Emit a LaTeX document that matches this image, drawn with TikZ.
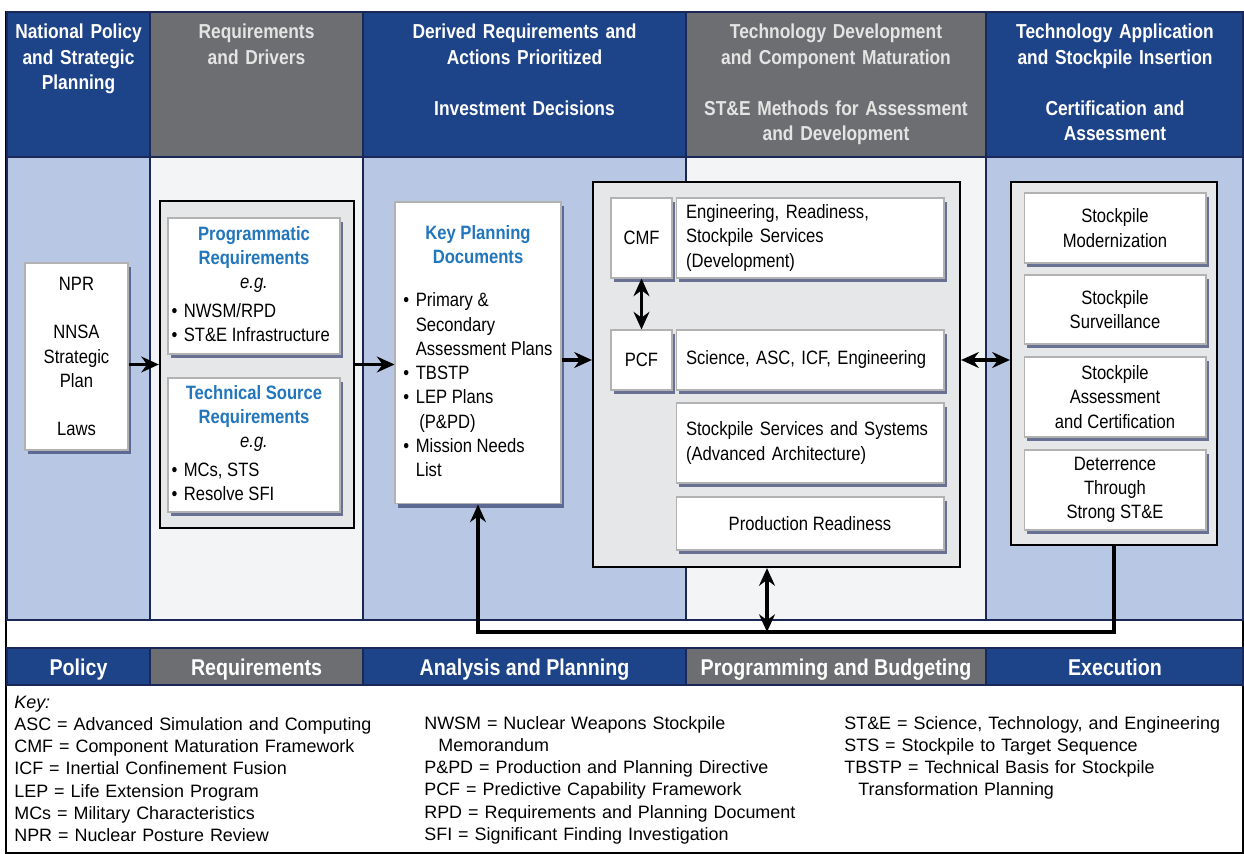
\documentclass[tikz,border=0pt]{standalone}
\usepackage{fontspec}
\setmainfont{Liberation Sans}
\newfontfamily\narrowfont[FakeStretch=0.86]{Liberation Sans}
\usetikzlibrary{arrows.meta,shadows}

\definecolor{hdrblue}{HTML}{1D4388}
\definecolor{hdrgray}{HTML}{6D6E71}
\definecolor{hdrtext}{HTML}{E4E4E4}
\definecolor{bodyblue}{HTML}{B8C7E3}
\definecolor{bodywhite}{HTML}{F3F4F6}
\definecolor{contgray}{HTML}{E6E7E9}
\definecolor{titleblue}{HTML}{2176BC}
\definecolor{rulenavy}{HTML}{1B2857}
\definecolor{shadownavy}{HTML}{3E4A78}

\newcommand{\bul}{\makebox[7pt][l]{\textbullet}}
\newcommand{\titl}[1]{{\color{titleblue}\bfseries #1}}
\newcommand{\ctr}[1]{\multicolumn{1}{@{}c@{}}{#1}}

\begin{document}
\begin{tikzpicture}[x=0.02cm, y=-0.02cm,
	cell/.style={draw=rulenavy, line width=1.2pt},
	hdr/.style={text=white, font=\narrowfont\bfseries\fontsize{11.5}{14.5}\selectfont, align=center, text width=5.8cm, inner sep=0pt, anchor=base},
	band/.style={text=white, font=\narrowfont\bfseries\fontsize{13}{15}\selectfont, inner sep=0pt, anchor=base},
	box/.style={draw=black!30, fill=white, line width=0.6pt, inner sep=0pt,
		drop shadow={shadow xshift=1.8pt, shadow yshift=-2.2pt, fill=shadownavy, opacity=0.75},
		font=\narrowfont\fontsize{11}{13.8}\selectfont},
	cont/.style={draw=black, fill=contgray, line width=1.3pt, inner sep=0pt},
	arr/.style={line width=1.9pt, -{Stealth[length=10pt, width=9pt]}},
	darr/.style={line width=1.9pt, {Stealth[length=10pt, width=9pt]}-{Stealth[length=10pt, width=9pt]}},
	keytext/.style={font=\fontsize{10.2}{12.7}\selectfont, align=left, text width=7.8cm, inner sep=0pt, anchor=base west}]

	\useasboundingbox (0,0) rectangle (1244,854);
	\draw[line width=0.8pt] (6,12) rectangle (1243,853);

	\draw[cell, fill=hdrblue] (7,12) rectangle (150,157);
	\draw[cell, fill=hdrgray] (150,12) rectangle (363,157);
	\draw[cell, fill=hdrblue] (363,12) rectangle (686,157);
	\draw[cell, fill=hdrgray] (686,12) rectangle (986,157);
	\draw[cell, fill=hdrblue] (986,12) rectangle (1243,157);

	\draw[cell, fill=bodyblue] (7,157) rectangle (150,620);
	\draw[cell, fill=bodywhite] (150,157) rectangle (363,620);
	\draw[cell, fill=bodyblue] (363,157) rectangle (686,620);
	\draw[cell, fill=bodywhite] (686,157) rectangle (986,620);
	\draw[cell, fill=bodyblue] (986,157) rectangle (1243,620);

	\draw[cell, fill=hdrblue] (7,648) rectangle (150,685);
	\draw[cell, fill=hdrgray] (150,648) rectangle (363,685);
	\draw[cell, fill=hdrblue] (363,648) rectangle (686,685);
	\draw[cell, fill=hdrgray] (686,648) rectangle (986,685);
	\draw[cell, fill=hdrblue] (986,648) rectangle (1243,685);

	\node[hdr] (hdpolicy) at (78.5,39) {National Policy\\and Strategic\\Planning};
	\node[hdr, text=hdrtext] (hdreq) at (256.5,39) {Requirements\\and Drivers};
	\node[hdr] (hdderived) at (524.5,39) {Derived Requirements and\\Actions Prioritized\\[14.5pt]Investment Decisions};
	\node[hdr, text=hdrtext] (hdtech) at (836,39) {Technology Development\\and Component Maturation\\[14.5pt]ST\&E Methods for Assessment\\and Development};
	\node[hdr] (hdapp) at (1115,39) {Technology Application\\and Stockpile Insertion\\[14.5pt]Certification and\\Assessment};

	\node[band] (bdpolicy) at (78.5,675) {Policy};
	\node[band] (bdreq) at (256.5,675) {Requirements};
	\node[band] (bdanalysis) at (524.5,675) {Analysis and Planning};
	\node[band] (bdprog) at (836,675) {Programming and Budgeting};
	\node[band] (bdexec) at (1115,675) {Execution};

	\node[box, minimum width=2.06cm, minimum height=3.74cm, align=center] (npr) at (76.5,356.5)
		{NPR\\[13.8pt]NNSA\\Strategic\\Plan\\[13.8pt]Laws};

	\node[cont, minimum width=3.88cm, minimum height=6.54cm] (reqbox) at (257,364.5) {};
	\node[box, minimum width=3.44cm, minimum height=2.72cm] (progreq) at (254,286)
		{\begin{tabular}{@{}l@{}}
		\ctr{\makebox[3.3cm]{\titl{Programmatic}}}\\
		\ctr{\titl{Requirements}}\\
		\ctr{\textit{e.g.}}\\[2.5pt]
		\bul NWSM/RPD\\
		\bul ST\&E Infrastructure
		\end{tabular}};
	\node[box, minimum width=3.44cm, minimum height=2.68cm] (techreq) at (254,445)
		{\begin{tabular}{@{}l@{}}
		\ctr{\makebox[3.3cm]{\titl{Technical Source}}}\\
		\ctr{\titl{Requirements}}\\
		\ctr{\textit{e.g.}}\\[2.5pt]
		\bul MCs, STS\\
		\bul Resolve SFI
		\end{tabular}};

	\node[box, minimum width=3.32cm, minimum height=6.04cm] (kpd) at (478,353)
		{\begin{tabular}{@{}l@{}}
		\ctr{\titl{Key Planning}}\\
		\ctr{\titl{Documents}}\\[11pt]
		\bul Primary \&\\
		\hspace*{7pt}Secondary\\
		\hspace*{7pt}Assessment Plans\\
		\bul TBSTP\\
		\bul LEP Plans\\
		\hspace*{9pt}(P\&PD)\\
		\bul Mission Needs\\
		\hspace*{7pt}List
		\end{tabular}};

	\node[cont, minimum width=7.34cm, minimum height=7.7cm] (techbox) at (776.5,374.5) {};
	\node[box, minimum width=1.22cm, minimum height=1.6cm] (cmf) at (641.5,238) {CMF};
	\node[box, minimum width=5.36cm, minimum height=1.6cm, text width=4.96cm, inner xsep=0.2cm, align=left] (eng) at (810,238)
		{Engineering, Readiness,\\Stockpile Services\\(Development)};
	\node[box, minimum width=1.22cm, minimum height=1.2cm] (pcf) at (641.5,360) {PCF};
	\node[box, minimum width=5.36cm, minimum height=1.2cm, text width=4.96cm, inner xsep=0.2cm, align=left] (sci) at (810,360)
		{Science, ASC, ICF, Engineering};
	\node[box, minimum width=5.36cm, minimum height=1.6cm, text width=4.96cm, inner xsep=0.2cm, align=left] (sss) at (810,443)
		{Stockpile Services and Systems\\(Advanced Architecture)};
	\node[box, minimum width=5.36cm, minimum height=1.06cm, align=center] (prod) at (810,523.5) {Production Readiness};

	\node[cont, minimum width=4.12cm, minimum height=7.26cm] (appbox) at (1114,363.5) {};
	\node[box, minimum width=3.64cm, minimum height=1.4cm, align=center] (modern) at (1115,228) {Stockpile\\Modernization};
	\node[box, minimum width=3.64cm, minimum height=1.38cm, align=center] (surv) at (1115,309.5) {Stockpile\\Surveillance};
	\node[box, minimum width=3.64cm, minimum height=1.6cm, align=center] (assess) at (1115,397) {Stockpile\\Assessment\\and Certification};
	\node[box, minimum width=3.64cm, minimum height=1.6cm, align=center] (deter) at (1115,490) {Deterrence\\Through\\Strong ST\&E};

	\draw[arr] (reqbox.west -| npr.east) -- (reqbox.west);
	\draw[arr] (reqbox.east) -- (reqbox.east -| kpd.west);
	\draw[arr] (kpd.east |- sci.west) -- (techbox.west |- sci.west);
	\draw[darr] (techbox.east |- sci.east) -- (appbox.west |- sci.east);
	\draw[darr] (cmf.south) -- (pcf.north);
	\coordinate (fbmid) at (767,632);
	\draw[darr] (fbmid |- techbox.south) -- (fbmid);
	\draw[arr] (appbox.south) |- (fbmid) -| (kpd.south);

	\node[keytext] (keya) at (14,708) {\textit{Key:}\\ASC = Advanced Simulation and Computing\\CMF = Component Maturation Framework\\ICF = Inertial Confinement Fusion\\LEP = Life Extension Program\\MCs = Military Characteristics\\NPR = Nuclear Posture Review};
	\node[keytext] (keyb) at (424,729) {NWSM = Nuclear Weapons Stockpile\\\hspace*{8pt}Memorandum\\P\&PD = Production and Planning Directive\\PCF = Predictive Capability Framework\\RPD = Requirements and Planning Document\\SFI = Significant Finding Investigation};
	\node[keytext] (keyc) at (844,729) {ST\&E = Science, Technology, and Engineering\\STS = Stockpile to Target Sequence\\TBSTP = Technical Basis for Stockpile\\\hspace*{8pt}Transformation Planning};

\end{tikzpicture}
\end{document}
